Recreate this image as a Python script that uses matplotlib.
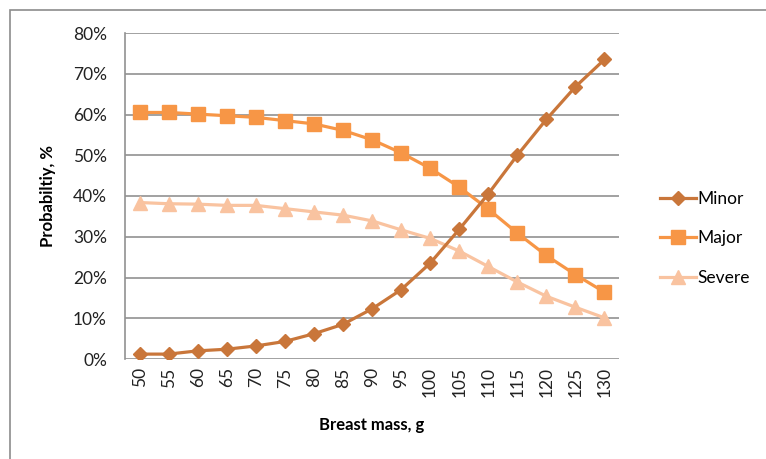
import numpy as np
import matplotlib.pyplot as plt
from matplotlib.patches import Rectangle
from matplotlib.ticker import PercentFormatter

plt.rcParams['font.family'] = ['Lato', 'DejaVu Sans']

mass = [50, 55, 60, 65, 70, 75, 80, 85, 90, 95, 100, 105, 110, 115, 120, 125, 130]
minor = [1.2, 1.2, 2.0, 2.4, 3.2, 4.3, 6.2, 8.5, 12.3, 17.0, 23.5, 31.8, 40.5, 50.0, 58.8, 66.8, 73.5]
major = [60.5, 60.5, 60.1, 59.7, 59.3, 58.5, 57.7, 56.1, 53.8, 50.6, 46.8, 42.2, 36.8, 30.9, 25.4, 20.7, 16.4]
severe = [38.4, 38.1, 38.0, 37.7, 37.7, 36.9, 36.1, 35.3, 33.9, 31.7, 29.6, 26.5, 22.7, 18.9, 15.4, 12.7, 10.1]

colors = {"Minor": "#c9763a", "Major": "#f79646", "Severe": "#f9c3a0"}

fig = plt.figure(figsize=(7.66, 4.59), dpi=100)
# outer chart frame
fig.patches.append(Rectangle((10 / 766, -0.05), 1.0, 1 - 10 / 459 + 0.05,
                             transform=fig.transFigure, fill=False,
                             edgecolor="#8c8c8c", linewidth=1.2))

ax = fig.add_axes([125 / 766, 1 - 359 / 459, (619 - 125) / 766, (359 - 33) / 459])
x = np.arange(len(mass))

ax.plot(x, minor, color=colors["Minor"], lw=2.3, marker="D", ms=7,
        label="Minor", zorder=5)
ax.plot(x, major, color=colors["Major"], lw=2.3, marker="s", ms=9.5,
        label="Major", zorder=4)
ax.plot(x, severe, color=colors["Severe"], lw=2.3, marker="^", ms=10,
        label="Severe", zorder=3)

ax.set_xlim(-0.5, len(mass) - 0.5)
ax.set_ylim(0, 80)
ax.set_yticks(np.arange(0, 81, 10))
ax.yaxis.set_major_formatter(PercentFormatter(decimals=0))
ax.set_xticks(x)
ax.set_xticklabels([str(m) for m in mass], rotation=90)
ax.tick_params(axis="both", length=0, labelsize=12.5, colors="#222222")
ax.tick_params(axis="x", pad=6)
ax.tick_params(axis="y", pad=13)

ax.grid(axis="y", color="#919191", linewidth=1.2)
ax.set_axisbelow(True)
for side in ["top", "right", "bottom"]:
    ax.spines[side].set_visible(False)
ax.spines["left"].set_color("#919191")
ax.spines["left"].set_linewidth(1.2)

ax.set_xlabel("Breast mass, g", fontsize=12, fontweight="bold", labelpad=14)
ax.set_ylabel("Probabiltiy, %", fontsize=12, fontweight="bold", labelpad=12)

leg = ax.legend(loc="center left", bbox_to_anchor=(1.083, 0.37), frameon=False,
                fontsize=12.5, handlelength=2.05, labelspacing=1.35,
                handletextpad=0.1, borderaxespad=0, borderpad=0)

fig.savefig("out.png", dpi=100)
